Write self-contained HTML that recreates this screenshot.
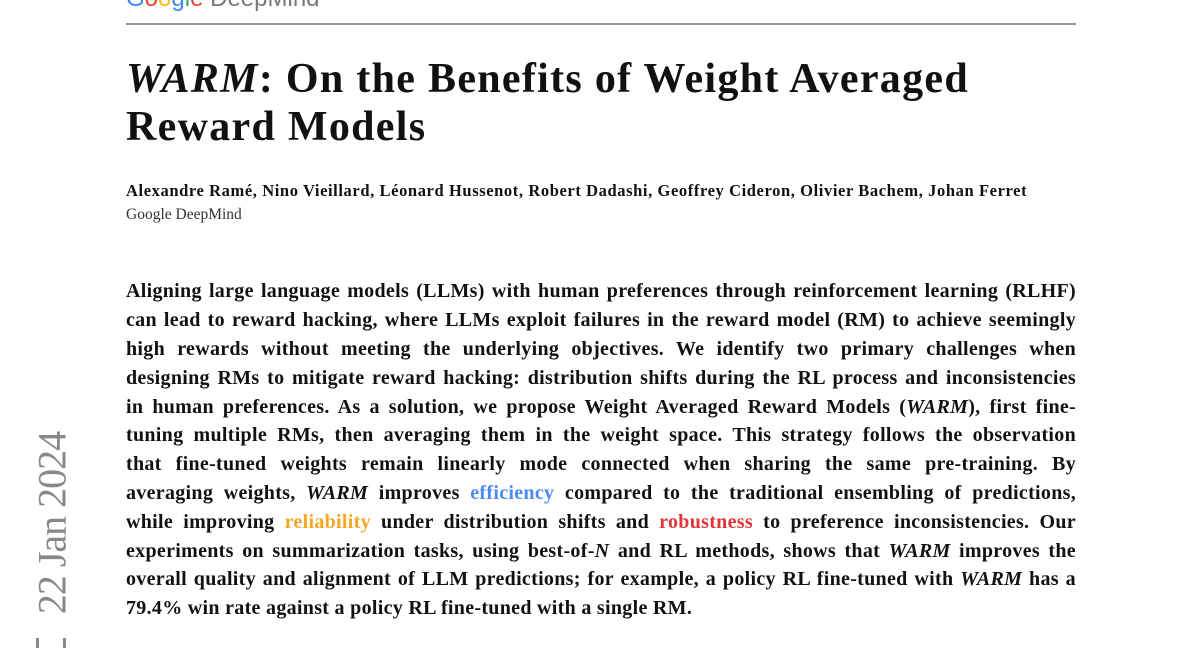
<!DOCTYPE html>
<html><head><meta charset="utf-8">
<style>
body{margin:0;width:1200px;height:648px;background:#fff;position:relative;overflow:hidden;font-family:"Liberation Serif",serif;color:#111}
.abs{position:absolute}
.l{position:absolute;left:126px;width:950px;font-size:20px;line-height:28.8px;text-align:justify;text-align-last:justify;white-space:nowrap;font-weight:bold;letter-spacing:0.3px}
.l.last{text-align-last:left}
.b{color:#4a8cf0}.o{color:#f5a623}.r{color:#e0353a}
</style></head><body>
<div class="abs" style="left:126px;top:-15px;font-family:'Liberation Sans',sans-serif;font-size:24px;color:#777"><span style="color:#4285f4">G</span><span style="color:#ea4335">o</span><span style="color:#fbbc05">o</span><span style="color:#4285f4">g</span><span style="color:#34a853">l</span><span style="color:#ea4335">e</span> DeepMind</div>
<div class="abs" style="left:126px;top:23px;width:950px;height:2px;background:#999"></div>
<div class="abs" style="left:126px;top:55px;font-size:42px;line-height:48px;font-weight:bold;letter-spacing:1.3px;width:1000px"><i>WARM</i>: On the Benefits of Weight Averaged<br>Reward Models</div>
<div class="abs" style="left:126px;top:181px;font-size:16.5px;font-weight:bold;white-space:nowrap;letter-spacing:0.6px">Alexandre Ramé, Nino Vieillard, Léonard Hussenot, Robert Dadashi, Geoffrey Cideron, Olivier Bachem, Johan Ferret</div>
<div class="abs" style="left:126px;top:206px;font-size:15.5px;color:#333">Google DeepMind</div>
<div>
<div class="l" style="top:277px">Aligning large language models (LLMs) with human preferences through reinforcement learning (RLHF)</div>
<div class="l" style="top:306px">can lead to reward hacking, where LLMs exploit failures in the reward model (RM) to achieve seemingly</div>
<div class="l" style="top:335px">high rewards without meeting the underlying objectives. We identify two primary challenges when</div>
<div class="l" style="top:364px">designing RMs to mitigate reward hacking: distribution shifts during the RL process and inconsistencies</div>
<div class="l" style="top:393px">in human preferences. As a solution, we propose Weight Averaged Reward Models (<i>WARM</i>), first fine-</div>
<div class="l" style="top:421px">tuning multiple RMs, then averaging them in the weight space. This strategy follows the observation</div>
<div class="l" style="top:450px">that fine-tuned weights remain linearly mode connected when sharing the same pre-training. By</div>
<div class="l" style="top:479px">averaging weights, <i>WARM</i> improves <span class="b">efficiency</span> compared to the traditional ensembling of predictions,</div>
<div class="l" style="top:508px">while improving <span class="o">reliability</span> under distribution shifts and <span class="r">robustness</span> to preference inconsistencies. Our</div>
<div class="l" style="top:537px">experiments on summarization tasks, using best-of-<i>N</i> and RL methods, shows that <i>WARM</i> improves the</div>
<div class="l" style="top:565px">overall quality and alignment of LLM predictions; for example, a policy RL fine-tuned with <i>WARM</i> has a</div>
<div class="l last" style="top:594px">79.4% win rate against a policy RL fine-tuned with a single RM.</div>
</div>
<div class="abs" style="left:52px;top:523px;transform:translate(-50%,-50%) rotate(-90deg);font-size:40px;color:#888;white-space:nowrap;letter-spacing:-1px">22 Jan 2024</div>
<div class="abs" style="left:36px;top:638px;width:30px;height:10px;border-left:3px solid #888;border-right:3px solid #888;box-sizing:border-box"></div>
</body></html>
